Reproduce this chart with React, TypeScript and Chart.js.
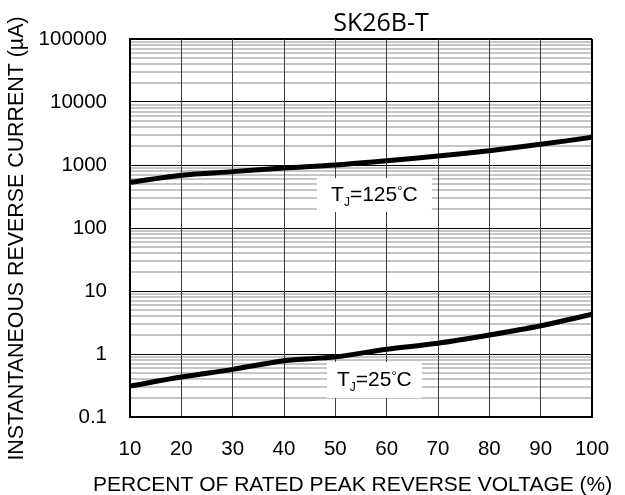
import React, { useEffect, useRef } from "react";
import { Chart, registerables } from "chart.js";

Chart.register(...registerables);

const chartTitle = "SK26B-T";
const xAxisTitle = "PERCENT OF RATED PEAK REVERSE VOLTAGE (%)";
const yAxisTitle = "INSTANTANEOUS REVERSE CURRENT (µA)";

const percentRated = [10, 20, 30, 40, 50, 60, 70, 80, 90, 100];
const currentTj125 = [530, 690, 785, 895, 1000, 1170, 1390, 1690, 2130, 2750];
const currentTj25 = [0.31, 0.43, 0.57, 0.78, 0.9, 1.19, 1.48, 2.0, 2.81, 4.27];

const xTickValues = [10, 20, 30, 40, 50, 60, 70, 80, 90, 100];
const yDecadeValues = [0.1, 1, 10, 100, 1000, 10000, 100000];
const yTickLabels = ["0.1", "1", "10", "100", "1000", "10000", "100000"];
const minorMultipliers = [2, 3, 4, 5, 6, 7, 8, 9];

// Curve labels (junction temperatures) and their anchor in data coordinates
const labelTemps = ["125", "25"];
const labelAnchorX = [57.6, 57.6];
const labelAnchorY = [334, 0.387];

const FONT = '"Liberation Sans", Arial, Helvetica, sans-serif';
const TITLE_FONT = '"Open Sans", "Noto Sans", sans-serif';

const labelBoxW = [115, 95];
const labelBoxH = [34, 36];

const isDecade = (v: number) =>
  Math.abs(Math.log10(v) - Math.round(Math.log10(v))) < 1e-9;

const overlayPlugin = {
  id: "overlay",
  beforeDatasetsDraw(chart: any) {
    const { ctx, scales } = chart;
    const x = scales.x;
    const y = scales.y;
    labelTemps.forEach((temp, i) => {
      const cx = x.getPixelForValue(labelAnchorX[i]);
      const cy = y.getPixelForValue(labelAnchorY[i]);
      const w = labelBoxW[i];
      const h = labelBoxH[i];
      ctx.save();
      ctx.fillStyle = "#ffffff";
      ctx.fillRect(cx - w / 2, cy - h / 2, w, h);
      const parts: any[] = [
        { t: "T", size: 21, dy: 0 },
        { t: "J", size: 12, dy: 5 },
        { t: "=" + temp, size: 21, dy: 0 },
        { t: "°", size: 13, dy: -6 },
        { t: "C", size: 21, dy: 0 },
      ];
      let total = 0;
      parts.forEach((p) => {
        ctx.font = `${p.size}px ${FONT}`;
        p.w = ctx.measureText(p.t).width;
        total += p.w;
      });
      let px = cx - total / 2;
      const base = cy + 6;
      ctx.fillStyle = "#000";
      ctx.textAlign = "left";
      ctx.textBaseline = "alphabetic";
      parts.forEach((p) => {
        ctx.font = `${p.size}px ${FONT}`;
        ctx.fillText(p.t, px, base + p.dy);
        px += p.w;
      });
      ctx.restore();
    });
  },
  afterDraw(chart: any) {
    const { ctx, chartArea } = chart;
    const { left, right, top, bottom } = chartArea;
    ctx.save();
    ctx.fillStyle = "#000";
    // Chart title
    ctx.font = `25px ${TITLE_FONT}`;
    ctx.textAlign = "center";
    ctx.textBaseline = "alphabetic";
    ctx.fillText(chartTitle, (left + right) / 2 + 20, top - 8.3);
    // X axis title
    ctx.font = `21px ${FONT}`;
    ctx.textAlign = "left";
    ctx.fillText(xAxisTitle, left - 37, bottom + 73.7);
    // Y axis title
    ctx.save();
    ctx.translate(left - 112.5, (top + bottom) / 2 + 10.5);
    ctx.rotate(-Math.PI / 2);
    ctx.font = `21.4px ${FONT}`;
    ctx.textAlign = "center";
    ctx.textBaseline = "middle";
    ctx.fillText(yAxisTitle, 0, 0);
    ctx.restore();
    ctx.restore();
  },
};

export default function App() {
  const canvasRef = useRef<HTMLCanvasElement | null>(null);

  useEffect(() => {
    if (!canvasRef.current) return;
    const chart = new Chart(canvasRef.current, {
      type: "line",
      data: {
        datasets: [
          {
            label: "TJ=125°C",
            data: percentRated.map((x, i) => ({ x, y: currentTj125[i] })),
            borderColor: "#000",
            borderWidth: 5,
            pointRadius: 0,
            tension: 0.3,
            fill: false,
          },
          {
            label: "TJ=25°C",
            data: percentRated.map((x, i) => ({ x, y: currentTj25[i] })),
            borderColor: "#000",
            borderWidth: 5,
            pointRadius: 0,
            tension: 0.3,
            fill: false,
          },
        ],
      },
      options: {
        animation: false,
        responsive: true,
        maintainAspectRatio: false,
        devicePixelRatio: 1,
        layout: { padding: { top: 39, right: 33, bottom: 0, left: 0 } },
        plugins: {
          legend: { display: false },
          tooltip: { enabled: false },
          title: { display: false },
        },
        scales: {
          y: {
            type: "logarithmic",
            position: "left",
            min: 0.1,
            max: 100000,
            afterBuildTicks: (scale: any) => {
              const ticks: any[] = [];
              yDecadeValues.forEach((d, i) => {
                ticks.push({ value: d, major: true });
                if (i < yDecadeValues.length - 1) {
                  minorMultipliers.forEach((m) =>
                    ticks.push({ value: d * m, major: false })
                  );
                }
              });
              scale.ticks = ticks;
            },
            afterFit: (scale: any) => {
              scale.width = 130;
              scale.paddingTop = 0;
              scale.paddingBottom = 0;
            },
            ticks: {
              autoSkip: false,
              padding: 23,
              color: "#000",
              font: { family: FONT, size: 20.5 },
              callback: (value: any) => {
                const k = yDecadeValues.indexOf(Number(value));
                return k >= 0 ? yTickLabels[k] : "";
              },
            },
            grid: {
              drawTicks: false,
              color: (c: any) =>
                c.tick && isDecade(c.tick.value) ? "#000" : "#c6c6c6",
              lineWidth: (c: any) => {
                if (!c.tick) return 1;
                const v = c.tick.value;
                if (v === 100000) return 2;
                return isDecade(v) ? 1 : 2;
              },
            },
            border: { display: true, color: "#000", width: 2 },
          },
          x: {
            type: "linear",
            position: "bottom",
            min: 10,
            max: 100,
            afterBuildTicks: (scale: any) => {
              scale.ticks = xTickValues.map((v) => ({ value: v }));
            },
            afterFit: (scale: any) => {
              scale.height = 78;
              scale.paddingLeft = 0;
              scale.paddingRight = 0;
            },
            ticks: {
              autoSkip: false,
              maxRotation: 0,
              padding: 20,
              color: "#000",
              font: { family: FONT, size: 20.5 },
              callback: (value: any) => String(value),
            },
            grid: {
              drawTicks: false,
              color: (c: any) =>
                c.tick && c.tick.value === 100 ? "#000" : "#3a3a3a",
              lineWidth: (c: any) => (c.tick && c.tick.value === 100 ? 2 : 1),
            },
            border: { display: true, color: "#000", width: 2 },
          },
        },
      },
      plugins: [overlayPlugin],
    } as any);
    return () => chart.destroy();
  }, []);

  return (
    <div
      style={{
        position: "absolute",
        left: 0,
        top: 0,
        width: 625,
        height: 495,
      }}
    >
      <canvas ref={canvasRef} />
    </div>
  );
}
